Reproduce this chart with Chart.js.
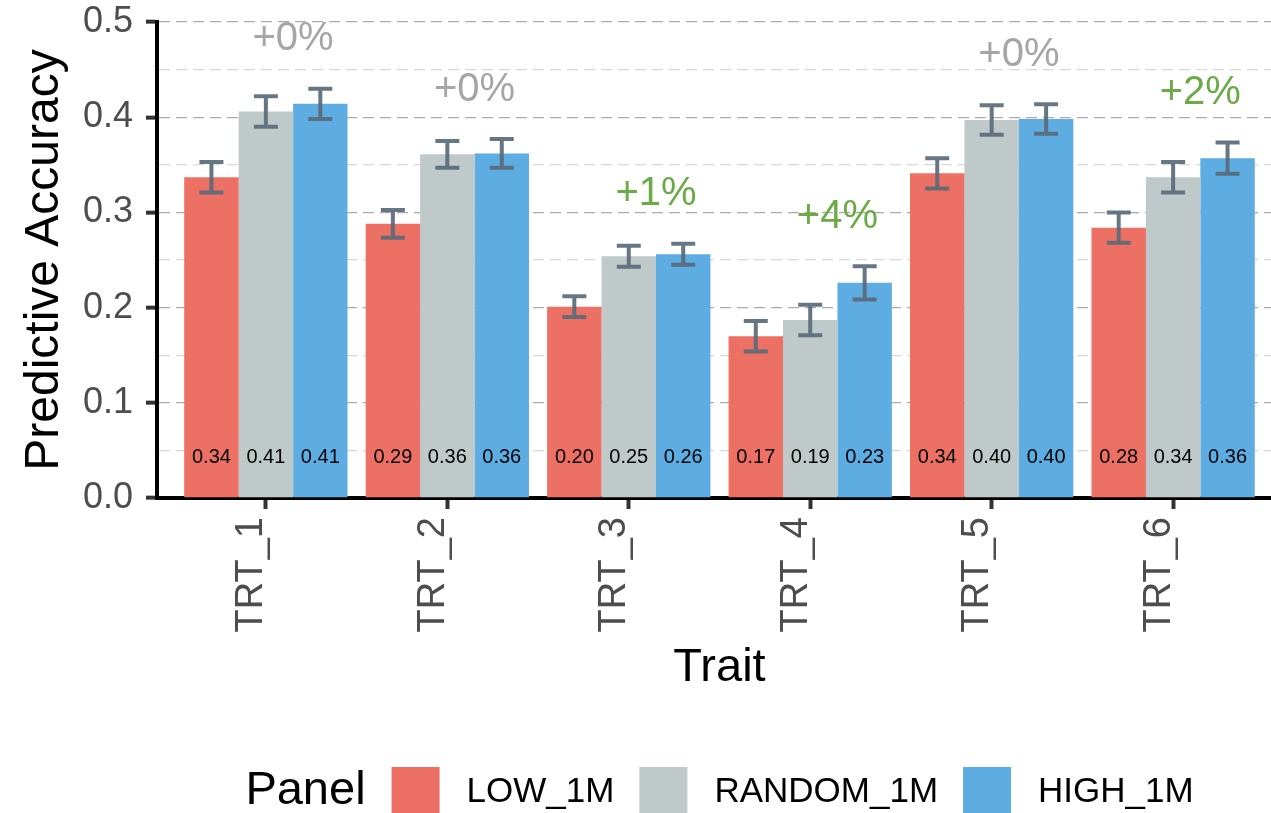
<!DOCTYPE html>
<html>
<head>
<meta charset="utf-8">
<script src="https://cdn.jsdelivr.net/npm/chart.js@4.4.1/dist/chart.umd.min.js"></script>
<style>
  html, body { margin: 0; padding: 0; background: #ffffff; overflow: hidden; }
  #wrap { width: 1282px; height: 820px; }
</style>
</head>
<body>
<div id="wrap"><canvas id="accChart" width="1282" height="820"></canvas></div>
<script>
(function () {
  "use strict";

  const traits = ["TRT_1", "TRT_2", "TRT_3", "TRT_4", "TRT_5", "TRT_6"];
  const panels = ["LOW_1M", "RANDOM_1M", "HIGH_1M"];

  // mean accuracy per trait, and half-width of the error bar
  const lowAcc = [0.337, 0.288, 0.201, 0.170, 0.341, 0.284];
  const lowErr = [0.016, 0.0145, 0.011, 0.016, 0.016, 0.016];
  const randomAcc = [0.406, 0.361, 0.254, 0.187, 0.397, 0.337];
  const randomErr = [0.016, 0.014, 0.011, 0.016, 0.0155, 0.016];
  const highAcc = [0.414, 0.362, 0.256, 0.226, 0.398, 0.357];
  const highErr = [0.016, 0.015, 0.011, 0.0175, 0.0155, 0.0165];

  // gain of HIGH over RANDOM, in percent
  const gainPct = [0, 0, 1, 4, 0, 2];

  const FONT = '"Liberation Sans", Arial, Helvetica, sans-serif';
  const panelColors = ["#EC7063", "#BFC9CA", "#5DADE2"];
  const accSeries = [lowAcc, randomAcc, highAcc];
  const errSeries = [lowErr, randomErr, highErr];

  function isMajor(v) {
    return Math.round(v * 100) % 10 === 0;
  }

  // error bars, value labels at the bar foot, gain labels above each group
  const annotations = {
    id: "annotations",
    afterDatasetsDraw(chart) {
      const ctx = chart.ctx;
      const y = chart.scales.y;
      const x = chart.scales.x;
      ctx.save();

      chart.data.datasets.forEach((ds, k) => {
        const meta = chart.getDatasetMeta(k);
        meta.data.forEach((bar, i) => {
          const v = accSeries[k][i];
          const e = errSeries[k][i];
          const top = y.getPixelForValue(v + e);
          const bot = y.getPixelForValue(v - e);
          ctx.strokeStyle = "rgba(90,106,122,0.92)";
          ctx.lineWidth = 4;
          ctx.beginPath();
          ctx.moveTo(bar.x, top);
          ctx.lineTo(bar.x, bot);
          ctx.moveTo(bar.x - 12, top);
          ctx.lineTo(bar.x + 12, top);
          ctx.moveTo(bar.x - 12, bot);
          ctx.lineTo(bar.x + 12, bot);
          ctx.stroke();

          ctx.fillStyle = "#000000";
          ctx.font = "20px " + FONT;
          ctx.textAlign = "center";
          ctx.textBaseline = "middle";
          ctx.fillText(v.toFixed(2), bar.x, y.getPixelForValue(0.043));
        });
      });

      traits.forEach((t, i) => {
        let peak = 0;
        accSeries.forEach((s, k) => { peak = Math.max(peak, s[i] + errSeries[k][i]); });
        const g = gainPct[i];
        ctx.fillStyle = g > 0 ? "#6AAB45" : "#A6A6A6";
        ctx.font = "40px " + FONT;
        ctx.textAlign = "center";
        ctx.textBaseline = "middle";
        ctx.fillText("+" + g + "%", x.getPixelForValue(i + 1.15), y.getPixelForValue(peak + 0.052));
      });

      ctx.restore();
    }
  };

  // legend row under the axis title: "Panel" followed by swatches
  const panelLegend = {
    id: "panelLegend",
    afterDraw(chart) {
      const ctx = chart.ctx;
      const area = chart.chartArea;
      const box = 48;
      const cy = 791;
      ctx.save();
      ctx.textBaseline = "middle";
      ctx.textAlign = "left";

      ctx.font = "47px " + FONT;
      const titleW = ctx.measureText("Panel").width;
      ctx.font = "35px " + FONT;
      const labelW = panels.map((p) => ctx.measureText(p).width);
      const total = titleW + 26 + labelW.reduce((a, w) => a + box + 27 + w, 0) + 25 * (panels.length - 1);
      let cx = (area.left + area.right) / 2 - total / 2;

      ctx.fillStyle = "#000000";
      ctx.font = "47px " + FONT;
      ctx.fillText("Panel", cx, cy);
      cx += titleW + 26;

      ctx.font = "35px " + FONT;
      panels.forEach((p, k) => {
        ctx.fillStyle = panelColors[k];
        ctx.fillRect(cx, cy - 24, box, box);
        cx += box + 27;
        ctx.fillStyle = "#000000";
        ctx.fillText(p, cx, cy + 1);
        cx += labelW[k] + 25;
      });
      ctx.restore();
    }
  };

  new Chart(document.getElementById("accChart"), {
    type: "bar",
    data: {
      datasets: panels.map((name, k) => ({
        label: name,
        data: traits.map((t, i) => ({ x: i + 1, y: accSeries[k][i] })),
        backgroundColor: panelColors[k],
        borderWidth: 0,
        categoryPercentage: 0.9,
        barPercentage: 1.0
      }))
    },
    options: {
      responsive: false,
      animation: false,
      events: [],
      layout: { padding: { top: 22, right: 0, bottom: 122, left: 0 } },
      plugins: {
        legend: { display: false },
        tooltip: { enabled: false }
      },
      scales: {
        x: {
          type: "linear",
          min: 0.4,
          max: 6.6,
          offset: false,
          afterBuildTicks: (axis) => {
            axis.ticks = traits.map((t, i) => ({ value: i + 1 }));
          },
          afterFit: (axis) => {
            axis.height = 200;
            axis.paddingLeft = 0;
            axis.paddingRight = 0;
          },
          grid: {
            offset: false,
            drawOnChartArea: false,
            drawTicks: true,
            tickLength: 11,
            tickWidth: 4,
            tickColor: "#333333"
          },
          border: { display: true, color: "#000000", width: 4 },
          ticks: {
            autoSkip: false,
            minRotation: 90,
            maxRotation: 90,
            padding: 8,
            labelOffset: -14,
            color: "#4D4D4D",
            font: { family: FONT, size: 38 },
            callback: (v) => traits[Math.round(v) - 1] || ""
          },
          title: {
            display: true,
            text: "Trait",
            color: "#000000",
            font: { family: FONT, size: 47 },
            padding: { top: 0, bottom: 2 }
          }
        },
        y: {
          min: 0,
          max: 0.5,
          afterFit: (axis) => {
            axis.width = 157;
            axis.paddingTop = 0;
            axis.paddingBottom = 0;
          },
          grid: {
            color: (c) => (isMajor(c.tick.value) ? "#ABABAB" : "#D8D8D8"),
            lineWidth: 1.3,
            drawTicks: true,
            tickLength: 11,
            tickWidth: 4,
            tickColor: (c) => (isMajor(c.tick.value) ? "#333333" : "rgba(0,0,0,0)")
          },
          border: { display: true, color: "#000000", width: 4, dash: [11, 6] },
          ticks: {
            stepSize: 0.05,
            autoSkip: false,
            padding: 13,
            color: "#4D4D4D",
            font: { family: FONT, size: 36 },
            callback: (v) => (isMajor(v) ? v.toFixed(1) : "")
          },
          title: {
            display: true,
            text: "Predictive Accuracy",
            color: "#000000",
            font: { family: FONT, size: 48 },
            padding: { top: 16, bottom: 0 }
          }
        }
      }
    },
    plugins: [annotations, panelLegend]
  });
})();
</script>
</body>
</html>
